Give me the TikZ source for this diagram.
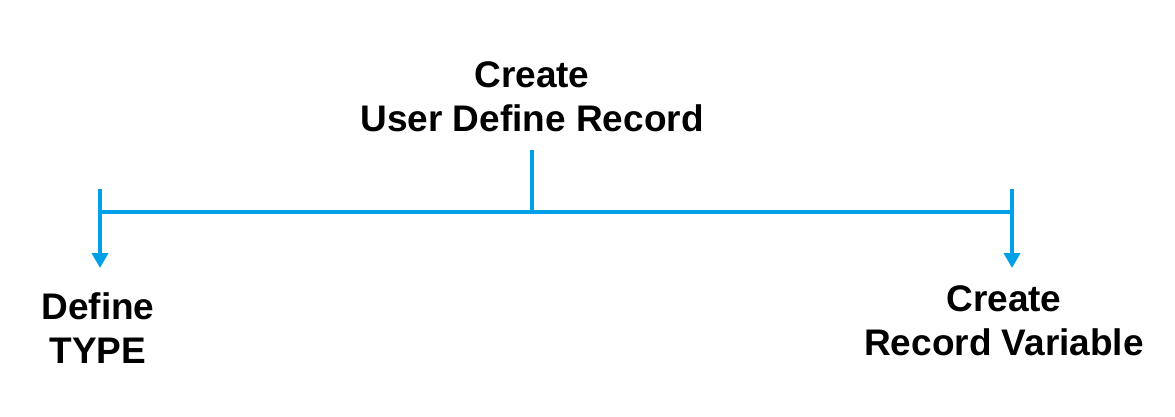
\documentclass[tikz,border=0pt]{standalone}
\usepackage{fontspec}
\setmainfont{Liberation Sans}
\usetikzlibrary{arrows.meta}
\definecolor{lineblue}{RGB}{0,160,233}
\tikzset{
  lbl/.style={align=center, font=\fontsize{37}{44}\selectfont\bfseries, inner sep=0pt, text=black},
  conn/.style={draw=lineblue, line width=4pt},
  arr/.style={conn, -{Triangle[width=16pt,length=15pt]}}
}
\begin{document}
\begin{tikzpicture}[x=1pt,y=-1pt]
\useasboundingbox (0,0) rectangle (1175,417);
\node[lbl] (top) at (532,97) {Create\\User Define Record};
\node[lbl] (left) at (98,328) {Define\\TYPE};
\node[lbl] (right) at (1004,321) {Create\\Record Variable};
\coordinate (ttop) at (532,150);
\coordinate (mid) at (532,212);
\coordinate (lstart) at (100,189);
\coordinate (rstart) at (1012,189);
\coordinate (ltip) at (100,268);
\coordinate (rtip) at (1012,268);
\draw[conn] (ttop) -- (mid);
\draw[conn] (100,212) -- (1012,212);
\draw[arr] (lstart) -- (ltip);
\draw[arr] (rstart) -- (rtip);
\end{tikzpicture}
\end{document}
